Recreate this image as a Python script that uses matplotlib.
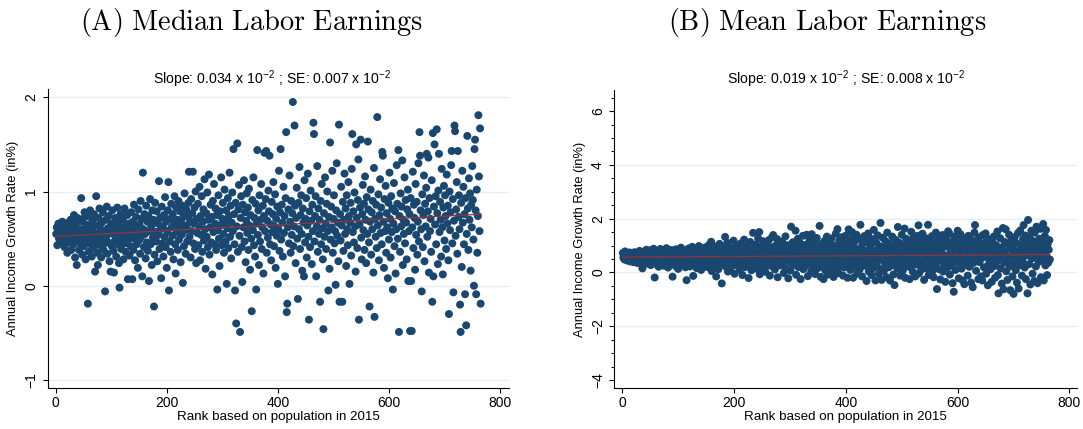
import numpy as np
import matplotlib
matplotlib.use("Agg")
import matplotlib.pyplot as plt

plt.rcParams["font.family"] = ["Liberation Sans", "DejaVu Sans"]
plt.rcParams["mathtext.fontset"] = "cm"

# ---- data: annual income growth rate (%) by city population rank ----
median_growth = [
    0.55, 0.62, 0.43, 0.58, 0.66, 0.50, 0.61, 0.47, 0.64, 0.56, 0.52, 0.68, 0.45, 0.59, 0.63,
    0.41, 0.57, 0.65, 0.49, 0.60, 0.35, 0.54, 0.67, 0.46, 0.62, 0.51, 0.70, 0.38, 0.58, 0.48,
    0.66, 0.44, 0.75, 0.55, 0.30, 0.62, 0.50, 0.22, 0.72, 0.47, 0.58, 0.38, 0.68, 0.53, 0.45,
    0.93, 0.60, 0.33, 0.71, 0.52, 0.42, 0.78, 0.57, 0.28, 0.65, 0.48, 0.74, -0.19, 0.55, 0.36,
    0.62, 0.80, 0.44, 0.58, 0.31, 0.69, 0.50, 0.40, 0.76, 0.56, 0.15, 0.64, 0.95, 0.47, 0.35,
    0.22, 0.72, 0.53, 0.82, 0.43, 0.60, 0.30, 0.67, 0.49, 0.78, 0.38, 0.56, 0.45, -0.06, 0.70,
    0.52, 0.84, 0.34, 0.61, 0.46, 0.74, 0.26, 0.58, 0.15, 0.66, 0.42, 0.80, 0.55, 0.37, 0.14,
    0.63, 0.48, 0.72, 0.31, 0.57, 0.83, 0.44, 0.67, 0.24, -0.02, 0.52, 0.76, 0.39, 0.61, 0.47,
    0.70, 0.28, 0.58, 0.82, 0.45, 0.36, 0.64, 0.53, 0.75, 0.07, 0.49, 0.66, 0.32, 0.59, 0.42,
    0.78, 0.55, 0.07, 0.68, 0.38, 0.86, 0.50, 0.27, 0.62, 0.73, 0.44, 0.57, 0.19, 0.81, 0.48,
    0.65, 0.34, 0.90, 0.52, 0.71, 0.10, 1.20, 0.60, 0.41, 0.76, 0.55, 0.29, 0.85, 0.46, 0.68,
    0.37, 0.74, 0.05, 0.58, 0.92, 0.44, 0.63, 0.22, 0.80, 0.51, 0.70, -0.22, 0.33, 0.88, 0.57,
    0.47, 0.79, 0.26, 0.66, 0.54, 1.11, 0.39, 0.72, 0.60, 0.08, 0.84, 0.45, 0.63, 0.31, 0.75,
    0.52, 0.94, 0.41, 0.68, 0.19, 0.58, 0.80, 1.10, -0.05, 0.47, 0.71, 0.36, 0.87, 0.62, 0.53,
    0.76, 0.28, 0.65, 0.95, 0.44, 0.13, 0.83, 0.57, 0.70, 0.38, 0.90, 0.49, 0.61, 0.79, 0.25,
    0.67, 0.54, 0.85, 0.03, 0.73, 0.42, 0.98, 0.59, 0.34, 0.81, 0.64, 0.47, 0.75, 0.88, 1.21,
    0.52, 0.69, 0.30, 0.92, 0.58, 0.77, 1.21, 0.45, 0.66, 0.83, 0.39, 1.00, 0.24, 0.71, 0.56,
    0.87, 0.43, 0.63, 1.05, 0.27, 0.74, 0.54, 0.95, 0.36, 0.68, 0.81, 0.48, 1.13, 0.60, 0.18,
    0.77, 0.52, 0.99, 0.41, 0.70, 1.18, 0.33, 0.62, 0.86, 0.46, 0.73, 0.12, 0.90, 0.57, 1.08,
    0.44, 0.66, 0.82, 0.38, 0.75, -0.04, 0.59, 0.96, 0.50, 0.21, 0.79, 0.64, 1.15, 0.43, 0.71,
    0.88, 0.55, 0.35, 1.02, 0.68, 0.47, 0.80, 0.02, 0.61, 0.93, 0.40, 0.74, 1.20, 0.52, 0.85,
    0.29, 0.67, 0.99, 0.58, 1.45, 0.76, 0.44, -0.05, 0.88, -0.40, 0.63, 1.51, 0.36, 0.81, 1.07,
    0.53, -0.49, 0.72, 0.95, 0.41, 0.04, 0.86, 0.62, 1.12, 0.47, 0.78, 0.25, 0.69, 0.98, 0.56,
    0.83, 0.38, 1.03, 0.64, 0.17, 0.75, 0.50, -0.27, 0.91, 0.59, 1.15, 0.43, 0.72, 0.31, 0.87,
    -0.04, 0.66, 1.44, 0.54, 0.80, 0.22, 0.96, 0.47, 0.70, 1.08, 0.39, 0.62, 0.85, 0.13, 0.74,
    1.41, 0.58, 0.92, 1.43, 0.35, 0.69, 0.51, 1.01, 0.79, 1.38, 0.44, 0.65, 0.27, 0.89, 0.57,
    0.76, 1.10, 0.42, 0.63, 0.97, 0.19, 0.71, 0.53, 0.84, 0.02, 0.60, 1.22, 0.37, 0.78, 1.45,
    0.49, 0.86, 0.67, 0.31, 1.05, 0.56, 0.74, 0.10, 0.93, 1.63, -0.28, -0.19, 0.62, 0.81, 0.45,
    1.17, 0.68, 0.35, 0.90, 0.54, 0.77, 1.95, 0.42, 0.63, 1.70, 0.85, 0.24, 0.72, 1.04, 0.50,
    -0.14, 0.88, 0.60, 1.26, 0.39, 0.75, 0.96, 0.55, 0.16, 0.82, 0.67, 0.10, 1.12, 0.46, 0.71,
    0.93, 0.30, 0.64, 1.19, 0.52, -0.36, 0.79, 0.41, 1.01, 0.69, 0.23, 0.86, 0.58, 1.73, 1.61,
    0.47, 0.74, 0.95, 0.10, 0.63, 1.27, 0.36, 0.82, 0.55, 0.70, -0.17, 0.90, 0.44, 1.08, 0.61,
    0.28, -0.46, 0.77, 0.52, 1.15, 0.66, 0.39, 0.87, 1.00, 0.58, -0.05, 0.73, 0.18, 1.52, 0.49,
    0.84, 0.62, 1.22, 0.35, 0.71, 0.96, 0.45, 0.58, 0.01, 0.80, 1.30, 0.53, 0.67, 0.26, 1.71,
    -0.17, 0.76, 0.48, 1.05, 0.64, -0.17, 0.89, 0.37, 0.70, 1.19, 0.55, 0.82, 0.21, 0.96, 0.60,
    0.43, 1.10, 0.74, 0.02, 0.67, 0.88, 0.32, 1.24, 1.61, 0.57, 0.79, 0.46, 0.99, 0.63, 0.15,
    1.50, 0.72, 0.40, 0.91, 1.34, -0.36, 0.65, 0.83, 1.55, 0.51, 0.28, 0.76, 1.07, 0.59, 0.87,
    0.38, 1.16, 0.70, 0.24, 0.94, 0.55, 1.53, 0.81, 0.46, -0.22, 0.68, 1.02, 0.33, 0.78, 0.60,
    0.90, 0.14, 1.25, -0.33, 0.71, 0.52, 0.86, 0.40, 1.79, 0.64, 0.97, 0.27, 0.75, 1.13, 0.56,
    0.83, 0.44, 1.42, 1.38, 0.68, 0.19, 0.92, 0.58, 1.06, 0.35, 0.77, 0.62, 0.08, 0.88, 0.49,
    1.20, 0.71, 0.30, 0.95, 0.57, 0.82, -0.04, 0.66, 1.09, 0.42, 0.79, 0.13, 0.60, 1.28, 0.87,
    0.50, 1.44, -0.49, 0.74, 0.36, 0.98, 0.63, 0.84, 1.33, 0.22, 0.70, 0.55, 1.15, 0.45, 0.91,
    0.67, 0.28, 0.81, 1.02, 0.05, 0.58, 0.76, -0.48, 0.93, 0.05, -0.48, 0.62, 1.21, 0.40, 0.86,
    0.72, 0.17, 1.08, 0.54, 0.89, 0.33, 0.68, 1.30, 0.47, 1.63, 1.38, 0.80, 0.60, -0.06, 0.97,
    0.41, 0.75, 1.17, 0.26, 0.87, 0.63, 1.04, 1.40, 0.52, 0.79, 1.36, 0.14, 0.93, 0.58, 0.71,
    0.36, 1.12, -0.17, 1.62, 0.10, 0.84, 1.50, 0.65, 0.95, 0.44, 1.66, 0.77, 0.23, 1.01, 1.40,
    0.57, 0.89, 0.70, 0.31, 1.24, 0.62, 0.12, 0.83, 1.06, 0.48, 0.96, 0.74, 0.39, 1.18, 0.66,
    0.85, 0.27, -0.30, 1.00, 0.59, 0.78, 1.28, 1.43, 0.45, 0.92, -0.07, 0.69, 1.70, 1.64, 0.53,
    0.81, 1.10, 0.34, 1.43, 0.73, 0.96, 0.60, -0.20, -0.49, 0.88, 0.20, 1.22, 0.67, 1.05, 0.44,
    0.76, -0.09, 0.93, -0.42, 0.55, 1.59, 0.82, 0.38, 1.14, 0.70, 0.98, 0.16, 0.86, 0.62, 1.27,
    0.91, 0.49, 0.00, 1.45, 1.55, 0.80, -0.09, 1.02, 0.35, 0.74, 1.81, 1.16, 0.58, 1.67, -0.19,
]

mean_growth = [
    0.72, 0.55, 0.64, 0.48, 0.78, 0.60, 0.52, 0.69, 0.44, 0.58, 0.66, 0.50, 0.74, 0.41, 0.62,
    0.56, 0.70, 0.47, 0.63, 0.38, 0.59, 0.75, 0.53, 0.45, 0.67, 0.61, 0.35, 0.71, 0.49, 0.57,
    0.80, 0.43, 0.65, 0.52, 0.29, 0.15, 0.68, 0.55, 0.40, 0.77, 0.60, 0.46, 0.84, 0.51, 0.33,
    0.69, 0.58, 0.42, 0.82, 0.54, 0.27, 0.73, 0.48, 0.64, 0.37, 0.88, 0.56, -0.19, 0.45, 0.70,
    0.31, 0.62, 0.79, 0.50, 0.21, 0.66, 0.43, 0.87, 0.57, 0.35, 0.73, 0.47, 0.60, 0.25, 0.81,
    0.53, 0.68, 0.39, 0.90, 0.44, 0.61, 0.18, 0.75, 0.55, 0.32, 0.70, 0.49, 0.83, 0.41, -0.16,
    0.64, 0.36, 0.77, 0.52, 0.24, 0.86, 0.58, 0.45, 0.69, 0.13, 0.62, 0.80, 0.38, 0.55, 0.92,
    0.47, 0.71, 0.28, 0.60, 0.84, 0.42, 0.66, 0.19, 0.53, -0.29, 0.78, 0.35, 0.63, 0.89, 0.50,
    0.22, 0.74, 0.57, 0.40, 0.95, 0.61, -0.13, 0.46, 0.82, 0.33, 0.68, 0.54, 0.16, 0.79, 0.43,
    0.65, 0.98, 0.30, 0.59, 0.76, 0.09, 0.51, 0.87, 0.37, 0.70, 0.25, 0.62, 0.93, 0.44, 0.56,
    0.81, 0.20, 0.67, 0.48, 1.02, 0.34, 0.73, 0.58, 1.14, 0.05, 0.64, 0.90, 0.40, 0.77, 0.27,
    0.55, 0.96, -0.15, 0.69, 0.43, 0.84, 0.12, 0.61, 1.06, 0.36, 0.75, 0.50, -0.41, 0.88, 0.30,
    0.66, 0.97, 0.45, 1.32, 0.22, 0.72, 0.58, 1.10, 0.03, 0.80, 0.39, 0.63, 0.91, 0.17, 0.52,
    0.85, 0.31, 0.68, 1.18, 0.47, -0.05, 0.77, 0.56, 1.00, 0.26, 0.64, 0.92, 0.41, 0.70, 0.10,
    0.59, 1.08, 0.35, 0.81, -0.10, 0.66, 0.49, 1.22, 0.19, 0.74, 0.55, 0.95, 0.29, 0.62, 0.86,
    -0.21, 0.71, 0.44, 1.13, 0.57, 0.08, 0.83, 0.37, 1.47, 0.65, 0.24, 0.90, 0.51, 1.04, 0.14,
    0.76, 0.42, 1.27, 0.60, 1.50, -0.07, 0.69, 0.33, 0.98, 0.53, 0.18, 1.16, 0.80, 0.45, 0.63,
    0.02, 0.88, 1.07, 0.38, 0.72, 0.27, 1.20, 0.58, -0.12, 0.94, 0.47, 0.67, 1.31, 0.21, 1.39,
    0.55, 0.82, 0.11, 0.99, 0.43, 0.70, 1.24, -0.18, 0.61, 0.36, 1.05, 0.77, 0.26, 0.90, 0.50,
    1.15, 0.32, 0.68, -0.02, 0.85, 0.59, 1.34, 0.15, 0.74, 0.46, 1.01, -0.22, 0.63, 0.91, 0.39,
    0.07, 1.70, 0.78, 0.53, 1.12, 0.28, 0.66, 0.94, 0.41, 1.55, -0.09, 0.84, 0.58, 1.25, 0.20,
    0.71, 0.47, 1.09, -0.25, 0.89, 0.34, 0.62, 1.36, 0.12, 0.79, 0.55, 1.02, 0.25, 0.69, 1.40,
    0.43, -0.14, 0.96, 0.60, 1.21, 0.31, 0.76, 0.04, 1.42, 0.51, 0.87, 0.22, 1.13, 0.65, -0.06,
    0.93, 0.38, 1.28, 0.57, 0.16, 0.81, 0.45, 1.73, 0.70, -0.17, 1.05, 0.27, 0.63, 0.98, -0.25,
    0.49, 1.17, 0.08, 0.75, 0.36, 1.33, 0.58, -0.08, 0.90, 0.20, 1.09, 0.67, 0.42, 1.26, 0.01,
    0.79, 0.52, -0.17, 1.00, 0.30, 0.71, 1.44, 0.14, 0.85, 1.61, 0.46, -0.03, 1.19, 0.61, 0.24,
    0.95, 0.40, 1.31, 0.68, -0.12, 0.83, 0.18, 1.10, 0.55, 1.37, 0.27, 0.74, -0.20, 1.03, 1.60,
    0.48, 0.88, 0.09, 1.22, 0.62, 1.50, 0.35, -0.20, 0.97, 0.56, 1.15, 0.21, 0.77, 1.40, -0.05,
    0.66, 0.33, 1.27, 0.86, 0.12, 1.77, 0.50, 0.94, -0.15, 1.08, 0.39, 0.72, 1.35, 0.25, 0.60,
    1.18, -0.32, 0.81, 0.45, 1.45, 0.03, 0.69, 1.02, 0.30, 0.91, -0.10, 1.24, 0.54, 0.16, 1.58,
    0.76, 0.40, -0.30, 1.12, 0.63, 0.22, 1.38, 0.85, -0.05, 0.98, 0.47, 1.84, 0.11, -0.28, 0.70,
    1.29, 0.57, 0.05, 0.93, 0.34, 1.16, 0.68, -0.18, 1.48, 0.42, 0.80, 0.19, 1.06, -0.30, 0.61,
    0.88, 0.27, 1.33, 0.52, -0.08, 1.00, -0.47, 0.73, 1.21, 0.36, 0.95, 0.14, 1.69, 0.58, 0.44,
    1.10, -0.12, 0.82, 0.31, 1.40, 0.64, 0.07, 0.99, 0.49, 1.63, -0.20, 0.77, 1.25, 0.23, 0.56,
    0.92, 0.38, 1.14, -0.25, 0.71, 0.18, 1.51, 0.60, 0.97, 0.02, 1.30, 0.45, 0.84, -0.15, 1.07,
    0.53, 0.29, 1.36, 0.67, 1.75, -0.04, 0.90, 0.41, 1.19, 0.10, 0.79, 1.44, 0.35, 0.62, -0.28,
    1.02, 0.48, 1.27, 0.16, 0.86, 0.57, 1.77, -0.10, 0.73, 1.12, 0.26, 0.95, 0.44, 1.35, 0.05,
    0.69, -0.18, 1.09, 0.37, 0.81, 1.48, 0.20, -0.62, 0.94, 0.55, 1.23, 0.12, 0.75, -0.26, 1.16,
    0.42, 0.88, 1.39, 0.03, 0.65, 1.05, 0.30, -0.35, 1.28, 0.58, 0.17, 0.96, 1.53, 0.47, 1.45,
    -0.08, 0.74, 1.12, 0.25, 0.85, -0.40, 0.54, -0.72, 1.33, 0.68, 0.09, 1.01, 0.39, 1.20, 1.55,
    0.61, -0.22, 0.90, 0.33, 1.42, 0.72, 0.14, 1.07, -0.30, 0.50, 1.26, -0.44, 0.83, 0.28, 1.15,
    0.46, 0.97, -0.12, 1.36, 0.64, 0.21, 1.03, 0.56, -0.38, 1.21, 0.79, -0.55, 0.35, 0.92, 1.48,
    1.76, 0.44, 0.06, 0.87, 1.14, 0.60, -0.25, 1.30, 0.38, 0.74, 1.02, -0.15, 0.53, -0.30, 1.39,
    0.68, 0.19, 1.10, 0.85, 1.45, -0.05, 0.57, 0.96, -0.48, 1.24, 0.32, 0.78, 1.06, 0.12, 0.63,
    -0.35, 1.18, 0.47, 0.89, 1.34, 0.24, -0.20, 0.70, 1.01, 0.40, 1.52, -0.10, -0.78, 0.83, 0.55,
    1.27, 0.15, 0.92, -0.42, 0.66, 1.65, -0.63, 0.36, 1.13, 0.79, 1.60, 0.04, 0.58, -0.28, 1.05,
    0.49, 1.40, 0.22, -0.66, 0.87, 1.20, 0.61, -0.15, 0.97, -0.80, 0.33, 1.31, 0.72, 0.08, 1.09,
    -0.38, 0.54, 1.46, -0.60, 0.81, 0.27, 1.56, 0.66, 1.02, -0.12, 0.43, 1.23, 1.76, 0.90, 0.18,
    1.37, -0.25, 0.63, 1.10, -0.78, 1.95, 0.75, 0.31, 1.28, -0.45, 0.94, 1.55, 0.52, -0.05, 1.16,
    0.68, -0.32, 1.48, 0.85, 0.22, 1.70, 0.59, -0.40, 1.03, 0.39, 1.25, 0.80, 1.62, -0.18, 0.47,
    1.12, 0.93, 1.80, -0.30, 0.70, 1.35, 0.26, 1.58, 0.58, -0.10, 1.05, 0.36, 0.84, 1.20, 0.48,
]

x_ticks = [0, 200, 400, 600, 800]
panel_titles = ["(A) Median Labor Earnings", "(B) Mean Labor Earnings"]
slope_text = [("0.034", "0.007"), ("0.019", "0.008")]
y_ticks = [[-1, 0, 1, 2], [-4, -2, 0, 2, 4, 6]]
y_grid = [[-1, 0, 1, 2], [-2, 0, 2, 4]]
y_limits = [(-1.088, 2.085), (-4.31, 6.78)]
x_limits = [(-14.4, 816.5), (-14.3, 813.0)]

NAVY = "#1a476f"
MAROON = "#90353b"
GRID = "#e6eef1"
MINUS = "\u2212"

fig = plt.figure(figsize=(10.83, 4.29), dpi=100)
fig.patch.set_facecolor("white")

axes_rects = [[0.0440, 0.0949, 0.4262, 0.6970], [0.5672, 0.0949, 0.4270, 0.6951]]
title_x = [252 / 1083, 827 / 1083]
subtitle_x = [272 / 1083, 846 / 1083]

for i, values in enumerate([median_growth, mean_growth]):
    y = np.asarray(values)
    rank = np.arange(1, len(y) + 1)
    ax = fig.add_axes(axes_rects[i])
    ax.set_facecolor("white")

    for g in y_grid[i]:
        ax.axhline(g, color=GRID, lw=1.0, zorder=0)

    ax.scatter(rank, y, s=33, color=NAVY, edgecolors="none", zorder=2)

    slope, intercept = np.polyfit(rank, y, 1)
    xs = np.array([rank.min(), rank.max()])
    ax.plot(xs, intercept + slope * xs, color=MAROON, lw=0.9, zorder=3)

    ax.set_xlim(*x_limits[i])
    ax.set_ylim(*y_limits[i])
    ax.set_xticks(x_ticks)
    ax.set_yticks(y_ticks[i])
    ax.set_yticklabels([f"{t:d}".replace("-", MINUS) for t in y_ticks[i]],
                       rotation=90, va="center")
    if i == 1:
        ax.set_yticks(np.arange(-4, 6.51, 0.5), minor=True)
        ax.tick_params(axis="y", which="minor", length=2.5, width=0.7)

    for side in ("top", "right"):
        ax.spines[side].set_visible(False)
    for side in ("left", "bottom"):
        ax.spines[side].set_linewidth(0.8)
    ax.tick_params(axis="both", which="major", length=3.6, width=0.8,
                   labelsize=10, colors="black")
    ax.tick_params(axis="y", pad=3)
    ax.tick_params(axis="x", pad=2)

    ax.set_xlabel("Rank based on population in 2015", fontsize=9.6, labelpad=1)
    ax.set_ylabel("Annual Income Growth Rate (in%)", fontsize=9.3, labelpad=4)

    sl, se = slope_text[i]
    sup = r"10$^{\mathregular{-2}}$"
    fig.text(subtitle_x[i], 1 - 84 / 429,
             f"Slope: {sl} x {sup} ; SE: {se} x {sup}",
             ha="center", va="baseline", fontsize=10.1)
    fig.text(title_x[i], 1 - 30 / 429,
             r"$\mathrm{" + panel_titles[i].replace(" ", r"\ ") + "}$",
             ha="center", va="baseline", fontsize=20.4)

fig.savefig("out.png", dpi=100, facecolor="white")
